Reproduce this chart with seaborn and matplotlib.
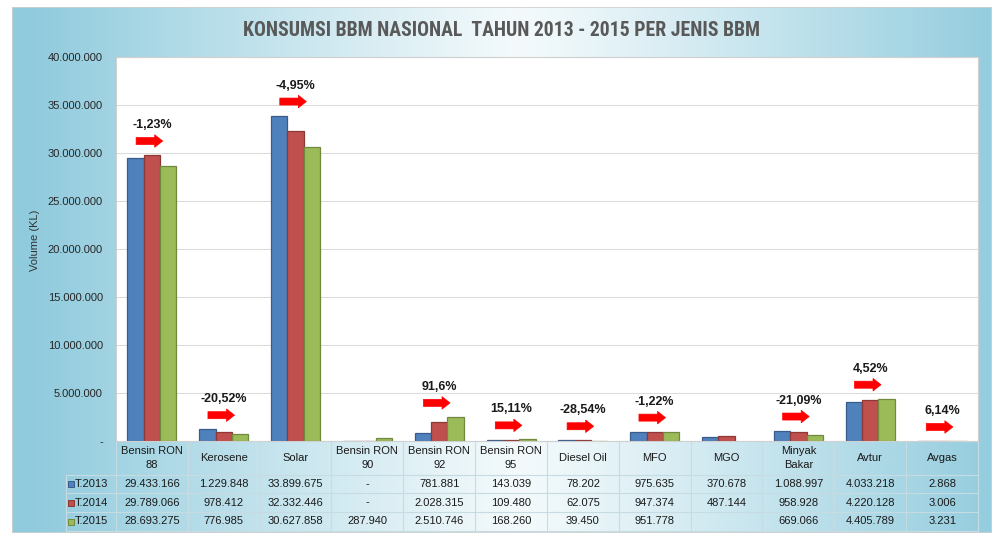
import numpy as np
import pandas as pd
import matplotlib
matplotlib.use('Agg')
import matplotlib.pyplot as plt
import matplotlib.transforms as mtransforms
from matplotlib.patches import Rectangle
from matplotlib.ticker import FuncFormatter
from matplotlib import font_manager
import seaborn as sns

categories = ['Bensin RON 88', 'Kerosene', 'Solar', 'Bensin RON 90', 'Bensin RON 92',
              'Bensin RON 95', 'Diesel Oil', 'MFO', 'MGO', 'Minyak Bakar', 'Avtur', 'Avgas']
header_labels = ['Bensin RON\n88', 'Kerosene', 'Solar', 'Bensin RON\n90', 'Bensin RON\n92',
                 'Bensin RON\n95', 'Diesel Oil', 'MFO', 'MGO', 'Minyak\nBakar', 'Avtur', 'Avgas']
years = ['T.2013', 'T.2014', 'T.2015']
vol_2013 = [29433166, 1229848, 33899675, 0, 781881, 143039, 78202, 975635, 370678, 1088997, 4033218, 2868]
vol_2014 = [29789066, 978412, 32332446, 0, 2028315, 109480, 62075, 947374, 487144, 958928, 4220128, 3006]
vol_2015 = [28693275, 776985, 30627858, 287940, 2510746, 168260, 39450, 951778, np.nan, 669066, 4405789, 3231]
pct_labels = ['-1,23%', '-20,52%', '-4,95%', '', '91,6%', '15,11%', '-28,54%', '-1,22%', '',
              '-21,09%', '4,52%', '6,14%']
title = 'KONSUMSI BBM NASIONAL  TAHUN 2013 - 2015 PER JENIS BBM'

bar_colors = ['#4F81BD', '#C0504D', '#9BBB59']
edge_colors = ['#385D8A', '#8C3836', '#71893F']

sns.set_style('white')
plt.rcParams['font.family'] = ['Liberation Sans', 'DejaVu Sans']

# look for a narrow / condensed face for the title, else plain Liberation Sans
entries = font_manager.fontManager.ttflist
narrow_names = sorted({f.name for f in entries
                       if 'Narrow' in f.name or 'Condensed' in f.name
                       or f.stretch in ('condensed', 'semi-condensed')})
title_family = None
for pref in ['Liberation Sans Narrow', 'Roboto Condensed', 'Noto Sans Condensed', 'Open Sans Condensed']:
    if pref in narrow_names:
        title_family = pref
        break
if title_family is None and narrow_names:
    title_family = narrow_names[0]

W, H = 995, 533
fig = plt.figure(figsize=(W / 100, H / 100), dpi=100)
fig.patch.set_facecolor('white')

# gradient frame behind everything
bg = fig.add_axes([12 / W, 0, (992 - 12) / W, (H - 7) / H])
xs = np.linspace(0, 1, 500)
edge_c = np.array([144, 203, 221]) / 255
mid_c = np.array([244, 250, 252]) / 255
t = np.clip(np.abs(xs - 0.52) / 0.5, 0, 1) ** 1.1
grad = mid_c[None, :] + (edge_c - mid_c)[None, :] * t[:, None]
bg.imshow(grad[None, :, :], aspect='auto', extent=[0, 1, 0, 1])
bg.add_patch(Rectangle((0, 0), 1, 1, transform=bg.transAxes, fill=False, ec='#cfcfcf', lw=1.2))
bg.set_axis_off()

# plot area
ax = fig.add_axes([116 / W, (H - 441) / H, (978 - 116) / W, 384 / H])
ax.set_facecolor('white')

df = pd.DataFrame({
    'jenis': categories * 3,
    'tahun': np.repeat(years, len(categories)),
    'volume': vol_2013 + vol_2014 + vol_2015,
})
sns.barplot(data=df, x='jenis', y='volume', hue='tahun', palette=bar_colors, width=0.68,
            saturation=1, errorbar=None, legend=False, linewidth=0.9, ax=ax)
for cont, ec in zip(ax.containers, edge_colors):
    for bar in cont:
        bar.set_edgecolor(ec)

ax.set_xlim(-0.5, len(categories) - 0.5)
ax.set_ylim(0, 40_000_000)
ax.set_yticks(np.arange(0, 40_000_001, 5_000_000))
ax.yaxis.set_major_formatter(FuncFormatter(
    lambda v, p: '-' if v == 0 else f'{v:,.0f}'.replace(',', '.')))
ax.tick_params(axis='y', length=0, pad=9.4, labelsize=8, labelcolor='#262626')
ax.set_xticks([])
ax.set_xlabel('')
ax.set_ylabel('')
ax.grid(axis='y', color='#dcdcdc', lw=0.8)
ax.set_axisbelow(True)
for s in ax.spines.values():
    s.set_color('#d0d0d0')
    s.set_linewidth(0.8)

# percentage labels and red arrows above each group
tops = np.nanmax(np.array([vol_2013, vol_2014, vol_2015], dtype=float), axis=0)
arrow_tr = mtransforms.offset_copy(ax.transData, fig=fig, y=14, units='dots')
for i, (lab, top) in enumerate(zip(pct_labels, tops)):
    if not lab:
        continue
    ax.annotate(lab, xy=(i, top), xytext=(0, 30), textcoords='offset pixels',
                ha='center', va='center', fontsize=9, fontweight='bold', color='#1a1a1a')
    ax.annotate('', xy=(i + 0.15, top), xycoords=arrow_tr, xytext=(i - 0.22, top),
                textcoords=arrow_tr,
                arrowprops=dict(arrowstyle='simple,head_length=0.8,head_width=1.25,tail_width=0.7',
                                color='#ff0000', lw=0.5, mutation_scale=7.2,
                                shrinkA=0, shrinkB=0))

# data table under the axis
trans = mtransforms.blended_transform_factory(ax.transData, ax.transAxes)


def ay(p):
    return (441 - p) / 384


line_c = '#c6dbe2'
x_left = -0.5 - 50 / 71.8
for k in range(len(categories) + 1):
    ax.plot([k - 0.5, k - 0.5], [ay(441), ay(531)], color=line_c, lw=0.8,
            transform=trans, clip_on=False)
ax.plot([x_left, x_left], [ay(475), ay(531)], color=line_c, lw=0.8, transform=trans, clip_on=False)
for p in [475, 493, 512, 531]:
    ax.plot([x_left, len(categories) - 0.5], [ay(p), ay(p)], color=line_c, lw=0.8,
            transform=trans, clip_on=False)

for i, lab in enumerate(header_labels):
    ax.text(i, ay(458), lab, transform=trans, ha='center', va='center', fontsize=8,
            linespacing=1.6, color='#1a1a1a', clip_on=False)


def fmt(v):
    if pd.isna(v):
        return ''
    if v == 0:
        return '-'
    return f'{v:,.0f}'.replace(',', '.')


row_y = [484, 502.5, 521.5]
for vals, yr, col, ec, py in zip([vol_2013, vol_2014, vol_2015], years, bar_colors, edge_colors, row_y):
    ax.plot(-0.5 - 45 / 71.8, ay(py), marker='s', ms=4.6, mfc=col, mec=ec, mew=0.7,
            transform=trans, clip_on=False)
    ax.text(-0.5 - 41 / 71.8, ay(py), yr, transform=trans, ha='left', va='center',
            fontsize=8, color='#1a1a1a', clip_on=False)
    for i, v in enumerate(vals):
        ax.text(i, ay(py), fmt(v), transform=trans, ha='center', va='center',
                fontsize=8, color='#1a1a1a', clip_on=False)

# y label and title
fig.text(35 / W, 1 - 240 / H, 'Volume (KL)', rotation=90, ha='center', va='center',
         fontsize=8, color='#333333')
if title_family:
    fig.text(502 / W, 1 - 30 / H, title, ha='center', va='center', fontsize=14.2,
             fontweight='bold', color='#595959', family=[title_family, 'DejaVu Sans'])
else:
    fig.text(502 / W, 1 - 30 / H, title, ha='center', va='center', fontsize=12.3,
             fontweight='bold', color='#595959')

fig.savefig('out.png', dpi=100)
